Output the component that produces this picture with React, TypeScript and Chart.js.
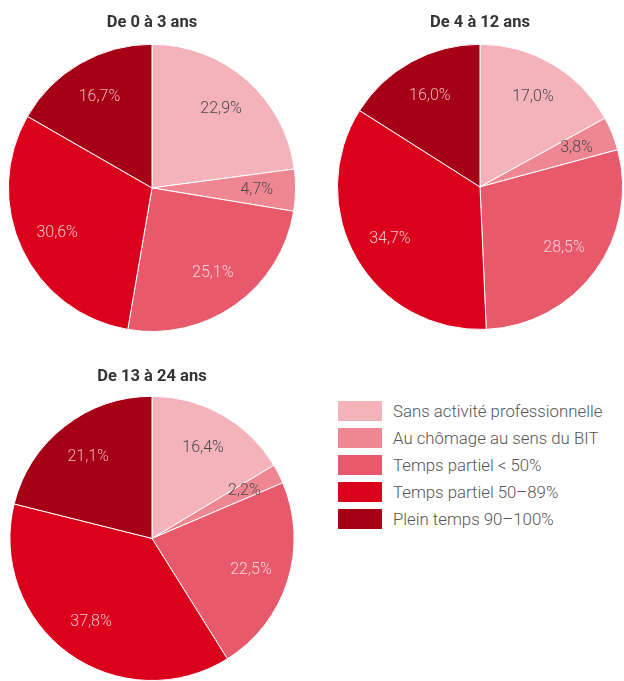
import React, { useEffect, useRef } from "react";
import { Chart, registerables } from "chart.js";

Chart.register(...registerables);

const categories = [
  "Sans activité professionnelle",
  "Au chômage au sens du BIT",
  "Temps partiel < 50%",
  "Temps partiel 50–89%",
  "Plein temps 90–100%",
];
const colors = ["#F4B2BA", "#EF8793", "#E8596B", "#DB001B", "#A50016"];
const labelColors = ["#4a4a4a", "#4a4a4a", "#F8D3D8", "#F6C3CA", "#F2B3BC"];

const titles = ["De 0 à 3 ans", "De 4 à 12 ans", "De 13 à 24 ans"];
const values0to3 = [22.9, 4.7, 25.1, 30.6, 16.7];
const values4to12 = [17.0, 3.8, 28.5, 34.7, 16.0];
const values13to24 = [16.4, 2.2, 22.5, 37.8, 21.1];
const allValues = [values0to3, values4to12, values13to24];

const fmt = (v: number) => v.toFixed(1).replace(".", ",") + "%";

const labelPlugin = {
  id: "sliceLabels",
  afterDatasetsDraw(chart: any) {
    const ctx = chart.ctx;
    const meta = chart.getDatasetMeta(0);
    const data = chart.data.datasets[0].data as number[];
    ctx.save();
    ctx.font = "300 16px Roboto";
    ctx.textAlign = "center";
    ctx.textBaseline = "middle";
    meta.data.forEach((arc: any, i: number) => {
      const p = arc.getProps(["x", "y", "startAngle", "endAngle", "outerRadius"], true);
      const mid = (p.startAngle + p.endAngle) / 2;
      const r = p.outerRadius * 0.73;
      ctx.fillStyle = labelColors[i];
      ctx.fillText(fmt(data[i]), p.x + Math.cos(mid) * r, p.y + Math.sin(mid) * r);
    });
    ctx.restore();
  },
};

type PieProps = {
  title: string;
  values: number[];
  left: number;
  top: number;
  width: number;
  height: number;
  titlePad: { top: number; bottom: number };
  padBottom: number;
};

function Pie({ title, values, left, top, width, height, titlePad, padBottom }: PieProps) {
  const ref = useRef<HTMLCanvasElement | null>(null);
  useEffect(() => {
    if (!ref.current) return;
    const chart = new Chart(ref.current, {
      type: "pie",
      data: {
        labels: categories,
        datasets: [
          {
            data: values,
            backgroundColor: colors,
            borderColor: "#ffffff",
            borderWidth: 1,
          },
        ],
      },
      options: {
        animation: false,
        responsive: false,
        maintainAspectRatio: false,
        layout: { padding: { bottom: padBottom } },
        plugins: {
          legend: { display: false },
          tooltip: { enabled: false },
          title: {
            display: true,
            text: title,
            color: "#333333",
            font: { family: "Roboto", size: 16.5, weight: "bold" },
            padding: titlePad,
          },
        },
      },
      plugins: [labelPlugin],
    });
    return () => chart.destroy();
  }, []);
  return (
    <canvas
      ref={ref}
      width={width}
      height={height}
      style={{ position: "absolute", left, top, width, height }}
    />
  );
}

export default function App() {
  useEffect(() => {
    document.body.style.margin = "0";
  }, []);
  return (
    <div
      style={{
        position: "relative",
        width: 624,
        height: 681,
        overflow: "hidden",
        background: "#ffffff",
        fontFamily: "Roboto",
      }}
    >
      <Pie title={titles[0]} values={allValues[0]} left={0} top={0} width={304} height={340}
        titlePad={{ top: 13, bottom: 11 }} padBottom={8} />
      <Pie title={titles[1]} values={allValues[1]} left={336} top={0} width={288} height={340}
        titlePad={{ top: 13, bottom: 11 }} padBottom={10} />
      <Pie title={titles[2]} values={allValues[2]} left={0} top={355} width={304} height={340}
        titlePad={{ top: 12, bottom: 9 }} padBottom={14} />
      <div style={{ position: "absolute", left: 338, top: 401 }}>
        {categories.map((c, i) => (
          <div key={c} style={{ display: "flex", alignItems: "center", height: 20, marginBottom: 7 }}>
            <div style={{ width: 44, height: 20, background: colors[i] }} />
            <span style={{ marginLeft: 11, fontSize: 16.8, color: "#555555", fontWeight: 300, whiteSpace: "nowrap" }}>
              {c}
            </span>
          </div>
        ))}
      </div>
    </div>
  );
}
